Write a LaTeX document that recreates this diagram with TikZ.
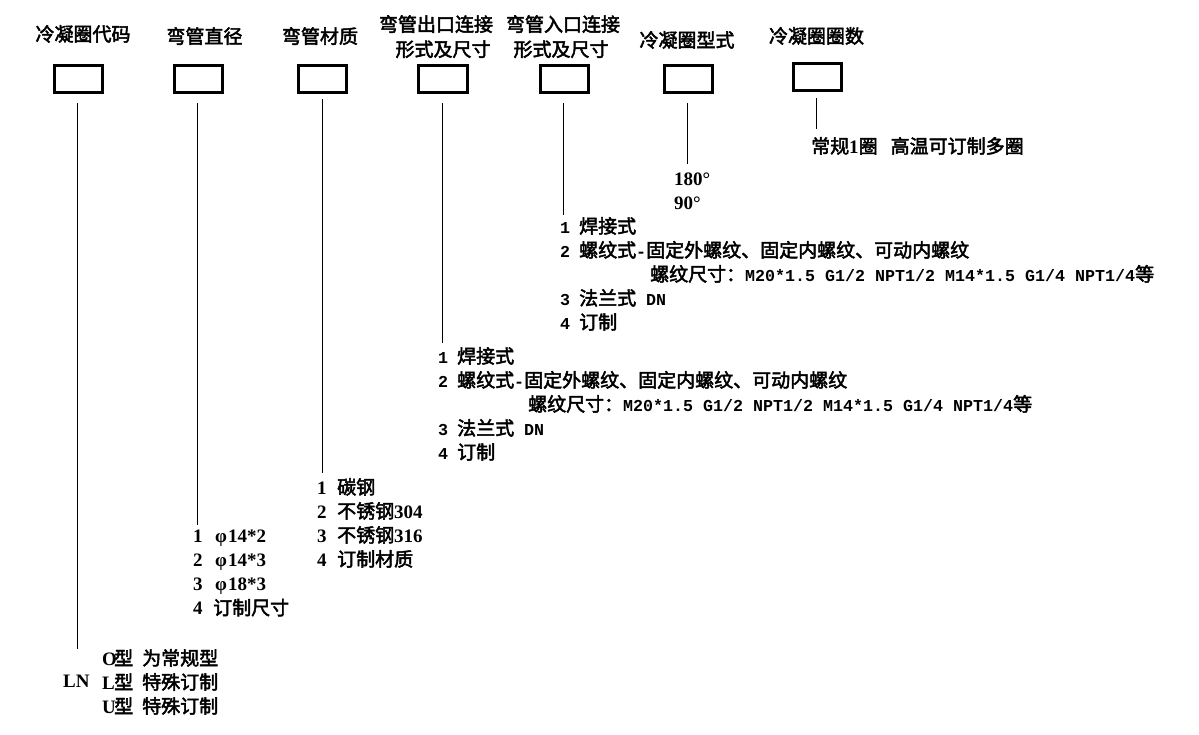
\documentclass[tikz,border=0pt]{standalone}
\usepackage{fontspec}
\setmainfont{Liberation Serif}[Scale=1.0]
\newfontfamily\cjraw{Noto Sans CJK SC}[FakeBold=2.5]
\newcommand\cj{\cjraw\mdseries}
\newfontfamily\mono{Liberation Mono}[Scale=0.877]
\usetikzlibrary{calc}
\tikzset{
  box/.style={draw, line width=3pt, minimum width=48pt, minimum height=27pt, inner sep=0pt},
  conn/.style={line width=1pt},
  lbl/.style={inner sep=0pt, font=\fontsize{19pt}{24pt}\selectfont\bfseries, align=left, anchor=north west},
  ttl/.style={inner sep=0pt, font=\fontsize{19pt}{25pt}\selectfont\cj, align=center, anchor=north},
}
\begin{document}
\begin{tikzpicture}[x=1pt,y=-1pt]
\fill[white] (0,0) rectangle (1199,735);
\useasboundingbox (0,0) rectangle (1199,735);
% titles
\node[ttl] (t1) at (83,25) {冷凝圈代码};
\node[ttl] (t2) at (204.5,27) {弯管直径};
\node[ttl] (t3) at (320,27) {弯管材质};
\node[ttl] (t4) at (436,15) {弯管出口连接\\\hspace*{14pt}形式及尺寸};
\node[ttl] (t5) at (563,15) {弯管入口连接\\\hspace*{-4pt}形式及尺寸};
\node[ttl] (t6) at (687,31) {冷凝圈型式};
\node[ttl] (t7) at (816.5,27) {冷凝圈圈数};
% boxes
\node[box] (b1) at (78.5,79) {};
\node[box] (b2) at (198.5,79) {};
\node[box] (b3) at (322.5,79) {};
\node[box, minimum width=49pt] (b4) at (443,79) {};
\node[box] (b5) at (564.5,79) {};
\node[box] (b6) at (688,79) {};
\node[box] (b7) at (817.5,77) {};
% option lists
\node[lbl, anchor=west] (ln) at (63,681) {LN};
\node[lbl] (l1) at (102,649) {\makebox[12pt][l]{O}{\cj 型}\hspace{9pt}{\cj 为常规型}\\
  \makebox[12pt][l]{L}{\cj 型}\hspace{9pt}{\cj 特殊订制}\\
  \makebox[12pt][l]{U}{\cj 型}\hspace{9pt}{\cj 特殊订制}};
\node[lbl] (l2) at (193,530) {\makebox[22pt][l]{1}φ\hspace{1pt}14*2\\
  \makebox[22pt][l]{2}φ\hspace{1pt}14*3\\
  \makebox[22pt][l]{3}φ\hspace{1pt}18*3\\
  \makebox[20pt][l]{4}{\cj 订制尺寸}};
\node[lbl] (l3) at (317,478) {\makebox[20pt][l]{1}{\cj 碳钢}\\
  \makebox[20pt][l]{2}{\cj 不锈钢}304\\
  \makebox[20pt][l]{3}{\cj 不锈钢}316\\
  \makebox[20pt][l]{4}{\cj 订制材质}};
\node[lbl] (l4) at (438,347) {\makebox[19pt][l]{\mono 1}{\cj 焊接式}\\
  \makebox[19pt][l]{\mono 2}{\cj 螺纹式}{\mono -}{\cj 固定外螺纹、固定内螺纹、可动内螺纹}\\
  \hspace*{90pt}{\cj 螺纹尺寸：}{\mono M20*1.5 G1/2 NPT1/2 M14*1.5 G1/4 NPT1/4}{\cj 等}\\
  \makebox[19pt][l]{\mono 3}{\cj 法兰式}{\mono \ DN}\\
  \makebox[19pt][l]{\mono 4}{\cj 订制}};
\node[lbl] (l5) at (560,217) {\makebox[19pt][l]{\mono 1}{\cj 焊接式}\\
  \makebox[19pt][l]{\mono 2}{\cj 螺纹式}{\mono -}{\cj 固定外螺纹、固定内螺纹、可动内螺纹}\\
  \hspace*{90pt}{\cj 螺纹尺寸：}{\mono M20*1.5 G1/2 NPT1/2 M14*1.5 G1/4 NPT1/4}{\cj 等}\\
  \makebox[19pt][l]{\mono 3}{\cj 法兰式}{\mono \ DN}\\
  \makebox[19pt][l]{\mono 4}{\cj 订制}};
\node[lbl] (l6) at (674,173) {180°\\90°};
\node[lbl] (l7) at (811,137) {{\cj 常规}1{\cj 圈}\hspace{13pt}{\cj 高温可订制多圈}};
% connectors
\draw[conn] ($(b1.south)+(-1.5,9)$) -- ($(b1.south |- ln.north)+(-1.5,-26)$);
\draw[conn] ($(b2.south)+(-1,9)$) -- ($(b2.south |- l2.north)+(-1,-5)$);
\draw[conn] ($(b3.south)+(-0.5,5)$) -- ($(b3.south |- l3.north)+(-0.5,-5)$);
\draw[conn] ($(b4.south)+(-1,9)$) -- ($(b4.south |- l4.north)+(-1,-4)$);
\draw[conn] ($(b5.south)+(-1.5,9)$) -- ($(b5.south |- l5.north)+(-1.5,-2)$);
\draw[conn] ($(b6.south)+(-1,9)$) -- ($(b6.south |- l6.north)+(-1,-9)$);
\draw[conn] ($(b7.south)+(-1.5,6)$) -- ($(b7.south |- l7.north)+(-1.5,-8)$);
\end{tikzpicture}
\end{document}
